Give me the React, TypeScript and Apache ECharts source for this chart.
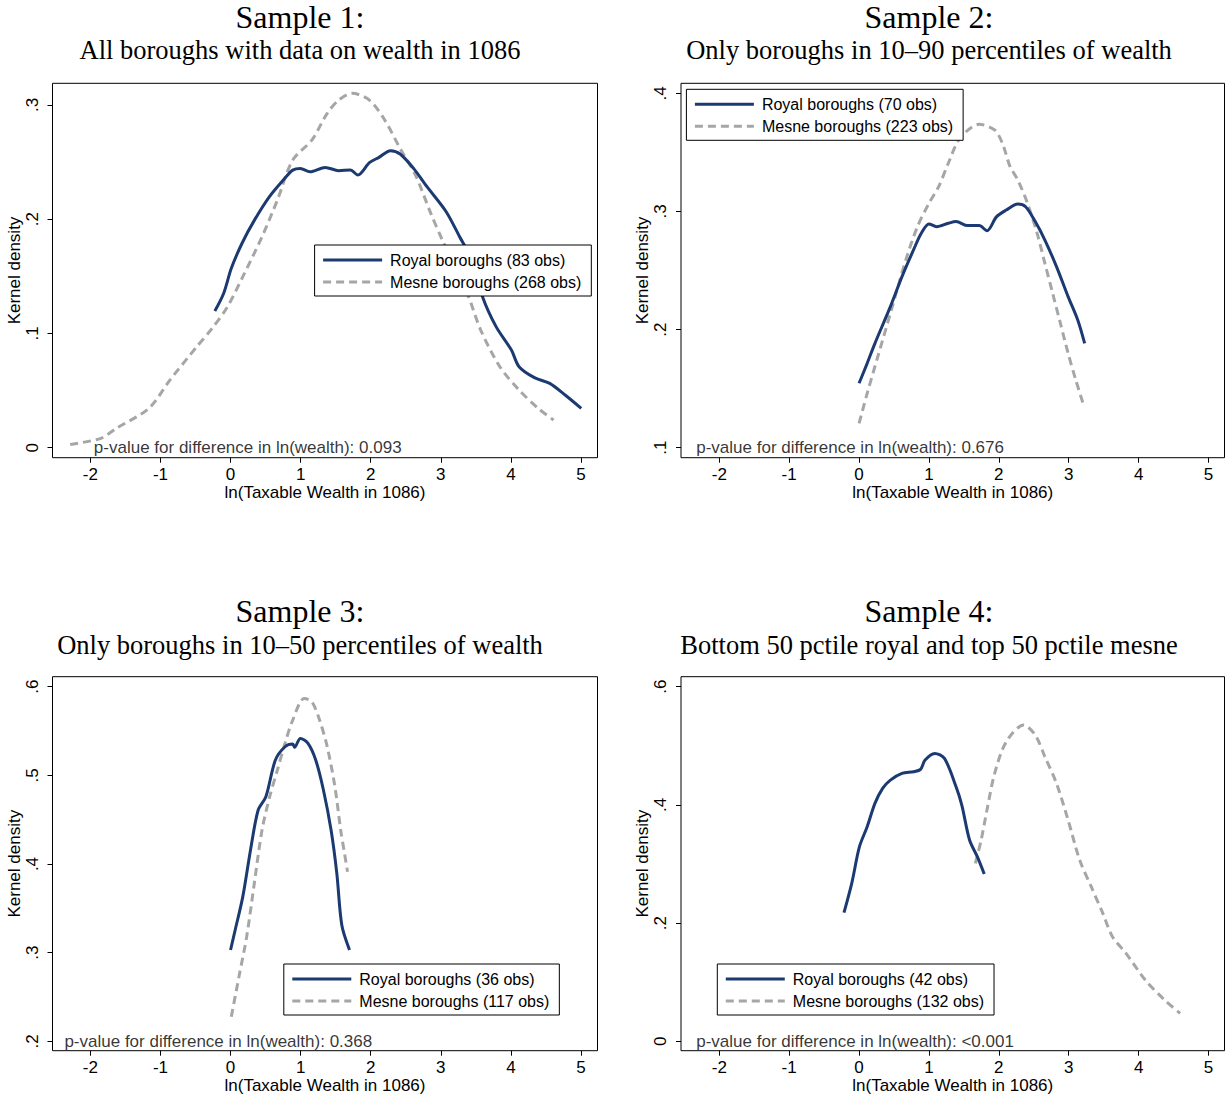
import React, { useEffect, useRef } from 'react';
import * as echarts from 'echarts';

// ---------- data ----------
const xTicks = [-2, -1, 0, 1, 2, 3, 4, 5];
const titles = ['Sample 1:', 'Sample 2:', 'Sample 3:', 'Sample 4:'];
const subtitles = [
  'All boroughs with data on wealth in 1086',
  'Only boroughs in 10\u201390 percentiles of wealth',
  'Only boroughs in 10\u201350 percentiles of wealth',
  'Bottom 50 pctile royal and top 50 pctile mesne',
];
const royalNames = ['Royal boroughs (83 obs)', 'Royal boroughs (70 obs)', 'Royal boroughs (36 obs)', 'Royal boroughs (42 obs)'];
const mesneNames = ['Mesne boroughs (268 obs)', 'Mesne boroughs (223 obs)', 'Mesne boroughs (117 obs)', 'Mesne boroughs (132 obs)'];
const pValues = ['0.093', '0.676', '0.368', '<0.001'];
const yTicks = [
  [0, 0.1, 0.2, 0.3],
  [0.1, 0.2, 0.3, 0.4],
  [0.2, 0.3, 0.4, 0.5, 0.6],
  [0, 0.2, 0.4, 0.6],
];
const xAxisTitle = 'ln(Taxable Wealth in 1086)';
const yAxisTitle = 'Kernel density';

const royal1 = [
  [-0.224, 0.1196], [-0.099, 0.135], [0.011, 0.157], [0.164, 0.179], [0.339, 0.199],
  [0.558, 0.22], [0.777, 0.236], [0.887, 0.243], [0.996, 0.2445], [1.133, 0.2416],
  [1.352, 0.2454], [1.543, 0.2425], [1.708, 0.2431], [1.817, 0.2387], [1.981, 0.2495],
  [2.118, 0.2542], [2.282, 0.26], [2.419, 0.2571], [2.611, 0.2445], [2.802, 0.2285],
  [3.076, 0.2066], [3.268, 0.1847], [3.459, 0.1628], [3.596, 0.132], [3.788, 0.106],
  [4.007, 0.0855], [4.116, 0.0709], [4.335, 0.0613], [4.554, 0.0563], [4.773, 0.0461],
  [5.003, 0.0344],
];
const mesne1 = [
  [-2.288, 0.0029], [-1.85, 0.0082], [-1.631, 0.0169], [-1.166, 0.0344], [-0.865, 0.0592],
  [-0.482, 0.0884], [-0.263, 0.1045], [-0.044, 0.1234], [0.175, 0.1497], [0.449, 0.1847],
  [0.668, 0.2168], [0.887, 0.2518], [1.16, 0.2693], [1.379, 0.2927], [1.543, 0.3043],
  [1.735, 0.3102], [1.981, 0.3043], [2.2, 0.2868], [2.419, 0.262], [2.638, 0.2387],
  [2.857, 0.2051], [3.021, 0.1818], [3.377, 0.1351], [3.569, 0.103], [3.842, 0.0709],
  [4.116, 0.0505], [4.39, 0.0344], [4.609, 0.0242],
];
const royal2 = [
  [0.0, 0.1545], [0.116, 0.1714], [0.227, 0.1883], [0.448, 0.2194], [0.614, 0.2448],
  [0.779, 0.2674], [0.89, 0.2815], [1.0, 0.2894], [1.11, 0.2871], [1.277, 0.29],
  [1.388, 0.2914], [1.553, 0.288], [1.719, 0.288], [1.83, 0.2837], [1.968, 0.2956],
  [2.106, 0.3012], [2.272, 0.3063], [2.383, 0.304], [2.521, 0.2914], [2.659, 0.2758],
  [2.825, 0.2533], [2.991, 0.2279], [3.129, 0.2081], [3.228, 0.1883],
];
const mesne2 = [
  [0.0, 0.1206], [0.116, 0.146], [0.282, 0.1799], [0.448, 0.2137], [0.669, 0.2589],
  [0.835, 0.2871], [1.0, 0.3069], [1.139, 0.321], [1.277, 0.3408], [1.443, 0.3619],
  [1.719, 0.3738], [1.94, 0.369], [2.051, 0.3577], [2.161, 0.3379], [2.272, 0.3266],
  [2.41, 0.3069], [2.548, 0.2815], [2.659, 0.2561], [2.77, 0.2307], [2.881, 0.2053],
  [2.991, 0.1799], [3.101, 0.1573], [3.212, 0.1361],
];
const royal3 = [
  [0.0, 0.303], [0.066, 0.3256], [0.175, 0.3632], [0.285, 0.4158], [0.394, 0.4609],
  [0.504, 0.476], [0.64, 0.5173], [0.777, 0.5323], [0.887, 0.5353], [0.914, 0.5316],
  [0.996, 0.5417], [1.105, 0.5361], [1.215, 0.5173], [1.325, 0.4835], [1.434, 0.4383],
  [1.516, 0.3895], [1.587, 0.3312], [1.697, 0.303],
];
const mesne3 = [
  [0.011, 0.2278], [0.12, 0.2729], [0.23, 0.318], [0.339, 0.3782], [0.449, 0.4383],
  [0.558, 0.4759], [0.668, 0.506], [0.777, 0.5361], [0.887, 0.5624], [1.051, 0.5868],
  [1.16, 0.5831], [1.27, 0.5624], [1.379, 0.5323], [1.489, 0.4872], [1.571, 0.4383],
  [1.626, 0.412], [1.669, 0.3914],
];
const royal4 = [
  [-0.216, 0.2177], [-0.105, 0.2673], [0.0055, 0.3293], [0.116, 0.3631], [0.227, 0.4026],
  [0.337, 0.428], [0.448, 0.442], [0.614, 0.4533], [0.779, 0.4562], [0.879, 0.4601],
  [0.945, 0.4759], [1.083, 0.4872], [1.222, 0.4787], [1.388, 0.4308], [1.47, 0.3998],
  [1.581, 0.3406], [1.692, 0.3124], [1.791, 0.2831],
];
const mesne4 = [
  [1.664, 0.3011], [1.747, 0.3406], [1.83, 0.3913], [1.94, 0.4533], [2.106, 0.5069],
  [2.355, 0.5351], [2.521, 0.5182], [2.659, 0.4815], [2.825, 0.4364], [2.991, 0.3744],
  [3.157, 0.3067], [3.322, 0.2616], [3.488, 0.2165], [3.626, 0.177], [3.82, 0.1489],
  [4.096, 0.1037], [4.372, 0.0699], [4.594, 0.0474],
];
const royalData = [royal1, royal2, royal3, royal4];
const mesneData = [mesne1, mesne2, mesne3, mesne4];
// annotation anchor (data coordinates) of the p-value note
const pAnchor = [[-1.95, 0], [-2.33, 0.1], [-2.37, 0.2], [-2.33, 0]];

// ---------- layout ----------
const W = 1225;
const H = 1099;
const grids = [
  { left: 52.5, top: 83.3, width: 545, height: 374.4 },
  { left: 681, top: 83.3, width: 543.5, height: 374.4 },
  { left: 52.5, top: 676.7, width: 545, height: 374 },
  { left: 681, top: 676.7, width: 543.5, height: 374 },
];
const xRanges = [[-2.54, 5.235], [-2.548, 5.229], [-2.54, 5.235], [-2.548, 5.229]];
const yRanges = [[-0.00875, 0.319], [0.0915, 0.4085], [0.1894, 0.6113], [-0.0159, 0.617]];
const legendPos = [
  { left: 314.6, top: 245 },
  { left: 686.4, top: 89.3 },
  { left: 283.8, top: 964 },
  { left: 717.3, top: 964 },
];
const titlePos = [
  { x: 300, y1: 17, y2: 50 },
  { x: 929, y1: 17, y2: 50 },
  { x: 300, y1: 611, y2: 645 },
  { x: 929, y1: 611, y2: 645 },
];

const SANS = '"Liberation Sans", Arial, sans-serif';
const SERIF = '"Liberation Serif", "Times New Roman", serif';
const ROYAL = '#1c3a72';
const MESNE = '#a6a6a6';

const fmtY = (v: number) => {
  if (Math.abs(v) < 1e-9) return '0';
  return String(Math.round(v * 10) / 10).replace(/^0/, '');
};

function buildOption() {
  const grid: any[] = [];
  const xAxis: any[] = [];
  const yAxis: any[] = [];
  const series: any[] = [];
  const legend: any[] = [];
  const graphic: any[] = [];

  for (let i = 0; i < 4; i++) {
    grid.push({
      ...grids[i],
      show: true,
      borderColor: '#000',
      borderWidth: 1,
      backgroundColor: 'transparent',
      containLabel: false,
    });
    xAxis.push({
      type: 'value',
      gridIndex: i,
      position: 'bottom',
      min: xRanges[i][0],
      max: xRanges[i][1],
      splitLine: { show: false },
      axisLine: { show: false, onZero: false },
      axisTick: { show: true, length: 5, inside: false, customValues: xTicks, lineStyle: { color: '#000', width: 1 } },
      axisLabel: {
        customValues: xTicks,
        margin: 8,
        fontSize: 17,
        color: '#000',
        fontFamily: SANS,
        formatter: (v: number) => String(v),
      },
      name: xAxisTitle,
      nameLocation: 'middle',
      nameGap: 25,
      nameTextStyle: { fontSize: 17, color: '#000', fontFamily: SANS, verticalAlign: 'top' },
    });
    yAxis.push({
      type: 'value',
      gridIndex: i,
      position: 'left',
      min: yRanges[i][0],
      max: yRanges[i][1],
      splitLine: { show: false },
      axisLine: { show: false, onZero: false },
      axisTick: { show: true, length: 5, inside: false, customValues: yTicks[i], lineStyle: { color: '#000', width: 1 } },
      axisLabel: {
        customValues: yTicks[i],
        rotate: 90,
        margin: 12,
        fontSize: 17,
        color: '#000',
        fontFamily: SANS,
        formatter: fmtY,
      },
      name: yAxisTitle,
      nameLocation: 'middle',
      nameGap: 30,
      nameRotate: 90,
      nameTextStyle: { fontSize: 17, color: '#000', fontFamily: SANS },
    });
    series.push({
      name: royalNames[i],
      type: 'line',
      xAxisIndex: i,
      yAxisIndex: i,
      data: royalData[i],
      showSymbol: false,
      symbol: 'none',
      smooth: 0.3,
      lineStyle: { color: ROYAL, width: 3 },
      itemStyle: { color: ROYAL },
      z: 3,
    });
    series.push({
      name: mesneNames[i],
      type: 'line',
      xAxisIndex: i,
      yAxisIndex: i,
      data: mesneData[i],
      showSymbol: false,
      symbol: 'none',
      smooth: 0.3,
      lineStyle: { color: MESNE, width: 3, type: [8, 5] },
      itemStyle: { color: MESNE },
      z: 2,
    });
    series.push({
      type: 'scatter',
      xAxisIndex: i,
      yAxisIndex: i,
      data: [pAnchor[i]],
      symbolSize: 0,
      silent: true,
      label: {
        show: true,
        position: 'right',
        distance: 0,
        formatter: 'p-value for difference in ln(wealth): ' + pValues[i],
        fontSize: 17,
        color: '#000',
        fontFamily: SANS,
      },
      z: 4,
    });
    legend.push({
      data: [royalNames[i], mesneNames[i]],
      orient: 'vertical',
      left: legendPos[i].left,
      top: legendPos[i].top,
      itemWidth: 59,
      itemHeight: 14,
      itemGap: 6,
      padding: [7, 10, 6, 7],
      borderColor: '#000',
      borderWidth: 1,
      backgroundColor: '#fff',
      selectedMode: false,
      lineStyle: { width: 3 },
      itemStyle: { color: 'transparent', borderWidth: 0, opacity: 0 },
      textStyle: { fontSize: 16, color: '#000', fontFamily: SANS, lineHeight: 16, padding: [0, 0, 0, 3] },
      z: 10,
    });
    graphic.push({
      type: 'text',
      x: titlePos[i].x,
      y: titlePos[i].y1,
      style: { text: titles[i], fontSize: 32, fontFamily: SERIF, fill: '#000', textAlign: 'center', textVerticalAlign: 'middle' },
    });
    graphic.push({
      type: 'text',
      x: titlePos[i].x,
      y: titlePos[i].y2,
      style: { text: subtitles[i], fontSize: 26.5, fontFamily: SERIF, fill: '#000', textAlign: 'center', textVerticalAlign: 'middle' },
    });
  }

  return {
    animation: false,
    backgroundColor: '#fff',
    grid,
    xAxis,
    yAxis,
    series,
    legend,
    graphic,
  };
}

export default function App() {
  const ref = useRef<HTMLDivElement>(null);
  useEffect(() => {
    if (!ref.current) return;
    const chart = echarts.init(ref.current, undefined, { renderer: 'svg', width: W, height: H });
    chart.setOption(buildOption() as any);
    return () => chart.dispose();
  }, []);
  return (
    <div
      ref={ref}
      style={{ position: 'absolute', left: 0, top: 0, width: W, height: H, background: '#fff' }}
    />
  );
}
